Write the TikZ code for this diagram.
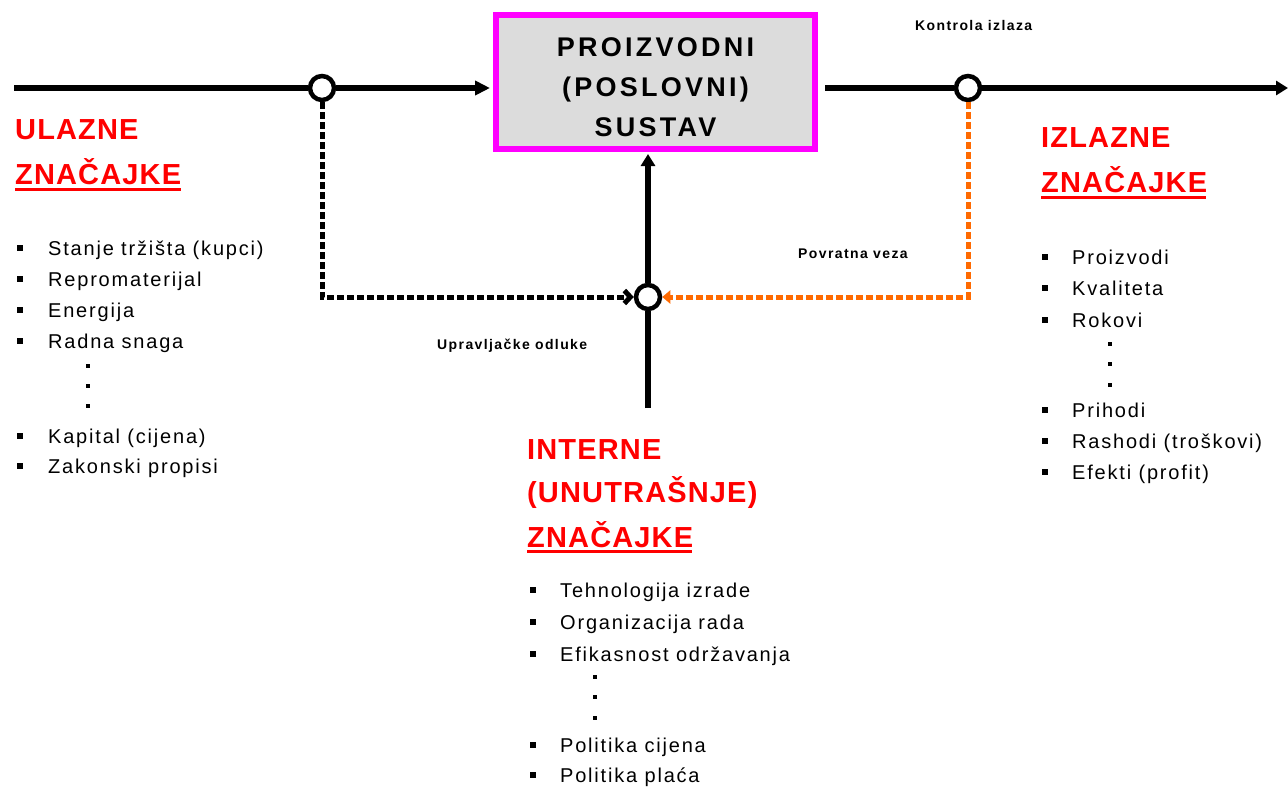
\documentclass[tikz,border=0pt]{standalone}
\usepackage{fontspec}
\setmainfont{Liberation Sans}
\newfontfamily\spcitem[LetterSpace=9]{Liberation Sans}
\newfontfamily\spcbox[LetterSpace=12]{Liberation Sans}
\newfontfamily\spchead[LetterSpace=4]{Liberation Sans}
\newfontfamily\spcsmall[LetterSpace=10]{Liberation Sans}
\usetikzlibrary{arrows.meta}
\definecolor{mag}{HTML}{FF00FF}
\definecolor{boxgray}{HTML}{DCDCDC}
\definecolor{hred}{HTML}{FF0000}
\definecolor{fborange}{HTML}{FF6A00}
\tikzset{
  junc/.style={circle,draw=black,fill=white,line width=4.5pt,minimum size=24pt,inner sep=0pt},
  mainline/.style={line width=5.5pt,black},
  sysbox/.style={draw=mag,fill=boxgray,line width=6pt,minimum width=319pt,minimum height=134pt,inner sep=0pt},
  boxtext/.style={inner sep=0pt,align=center,font=\spcbox\fontsize{27}{40}\selectfont\bfseries},
  head/.style={anchor=west,inner sep=0pt,text=hred,font=\spchead\fontsize{29}{29}\selectfont\bfseries},
  uline/.style={draw=hred,line width=3pt},
  item/.style={anchor=base west,inner sep=0pt,font=\spcitem\fontsize{20}{20}\selectfont},
  bul/.style={fill=black,inner sep=0pt,minimum size=6pt},
  dotm/.style={fill=black,inner sep=0pt,minimum size=4pt},
  small/.style={inner sep=0pt,font=\spcsmall\fontsize{14}{14}\selectfont\bfseries},
  dashblack/.style={line width=5pt,black,dash pattern=on 7pt off 3pt},
  dashorange/.style={line width=5pt,fborange,dash pattern=on 7pt off 3pt},
}
\begin{document}
\begin{tikzpicture}[x=1pt,y=-1pt]
\useasboundingbox (0,0) rectangle (1288,788);
% main box
\node[sysbox] (sys) at (655.5,82) {};
\node[boxtext] (systxt) at (655.5,87) {PROIZVODNI\\(POSLOVNI)\\SUSTAV};
% junctions
\node[junc] (cin) at (322,88) {};
\node[junc] (cout) at (968,88) {};
\node[junc] (cmid) at (648,297) {};
\coordinate (start) at (14,88);
\coordinate (outend) at (1288,88);
\coordinate (midbot) at (648,408);
\coordinate (boxin) at (490,88);
\coordinate (boxout) at (825,88);
% main lines
\draw[mainline] (start) -- (cin.west);
\draw[mainline,-{Triangle[length=15pt,width=14pt]}] (cin.east) -- (boxin);
\draw[mainline] (boxout) -- (cout.west);
\draw[mainline,-{Triangle[length=12pt,width=14pt]}] (cout.east) -- (outend);
\draw[mainline] (midbot) -- (cmid.south);
\draw[mainline,-{Triangle[length=12pt,width=14pt]}] (cmid.north) -- (648,154);
% feedback lines
\draw[dashblack,-{Straight Barb[length=6pt,width=13pt]}] (cin.south) |- (cmid.west);
\draw[dashorange,-{Triangle[length=8pt,width=13pt]}] (cout.south) |- (cmid.east);
% small labels
\node[small,anchor=west] (kon) at (915,25) {Kontrola izlaza};
\node[small,anchor=west] (pov) at (798,254) {Povratna veza};
\node[small,anchor=west] (upr) at (437,346) {Upravljačke odluke};
% left heading
\node[head] (ul1) at (15,130) {ULAZNE};
\node[head] (ul2) at (15,172) {ZNAČAJKE};
\draw[uline] (15,189) -- (181,189);
% right heading
\node[head] (iz1) at (1041,138) {IZLAZNE};
\node[head] (iz2) at (1041,180) {ZNAČAJKE};
\draw[uline] (1041,197) -- (1206,197);
% center heading
\node[head] (in1) at (527,450) {INTERNE};
\node[head] (in2) at (527,493) {(UNUTRAŠNJE)};
\node[head] (in3) at (527,535) {ZNAČAJKE};
\draw[uline] (527,551) -- (692,551);
% left list
\foreach \yy/\tt [count=\i] in {248/{Stanje tržišta (kupci)},279/{Repromaterijal},310/{Energija},341/{Radna snaga},436/{Kapital (cijena)},466/{Zakonski propisi}}{
  \node[bul] (lb\i) at (20,\yy) {};
  \node[item] (lt\i) at (48,\yy+7) {\tt};
}
\foreach \yy [count=\i] in {366,386,406}{\node[dotm] (ld\i) at (88,\yy) {};}
% right list
\foreach \yy/\tt [count=\i] in {257/{Proizvodi},288/{Kvaliteta},320/{Rokovi},410/{Prihodi},441/{Rashodi (troškovi)},472/{Efekti (profit)}}{
  \node[bul] (rb\i) at (1045,\yy) {};
  \node[item] (rt\i) at (1072,\yy+7) {\tt};
}
\foreach \yy [count=\i] in {344,364,385}{\node[dotm] (rd\i) at (1110,\yy) {};}
% center list
\foreach \yy/\tt [count=\i] in {590/{Tehnologija izrade},622/{Organizacija rada},654/{Efikasnost održavanja},745/{Politika cijena},775/{Politika plaća}}{
  \node[bul] (cb\i) at (533,\yy) {};
  \node[item] (ct\i) at (560,\yy+7) {\tt};
}
\foreach \yy [count=\i] in {677,697,718}{\node[dotm] (cd\i) at (595,\yy) {};}
\end{tikzpicture}
\end{document}
